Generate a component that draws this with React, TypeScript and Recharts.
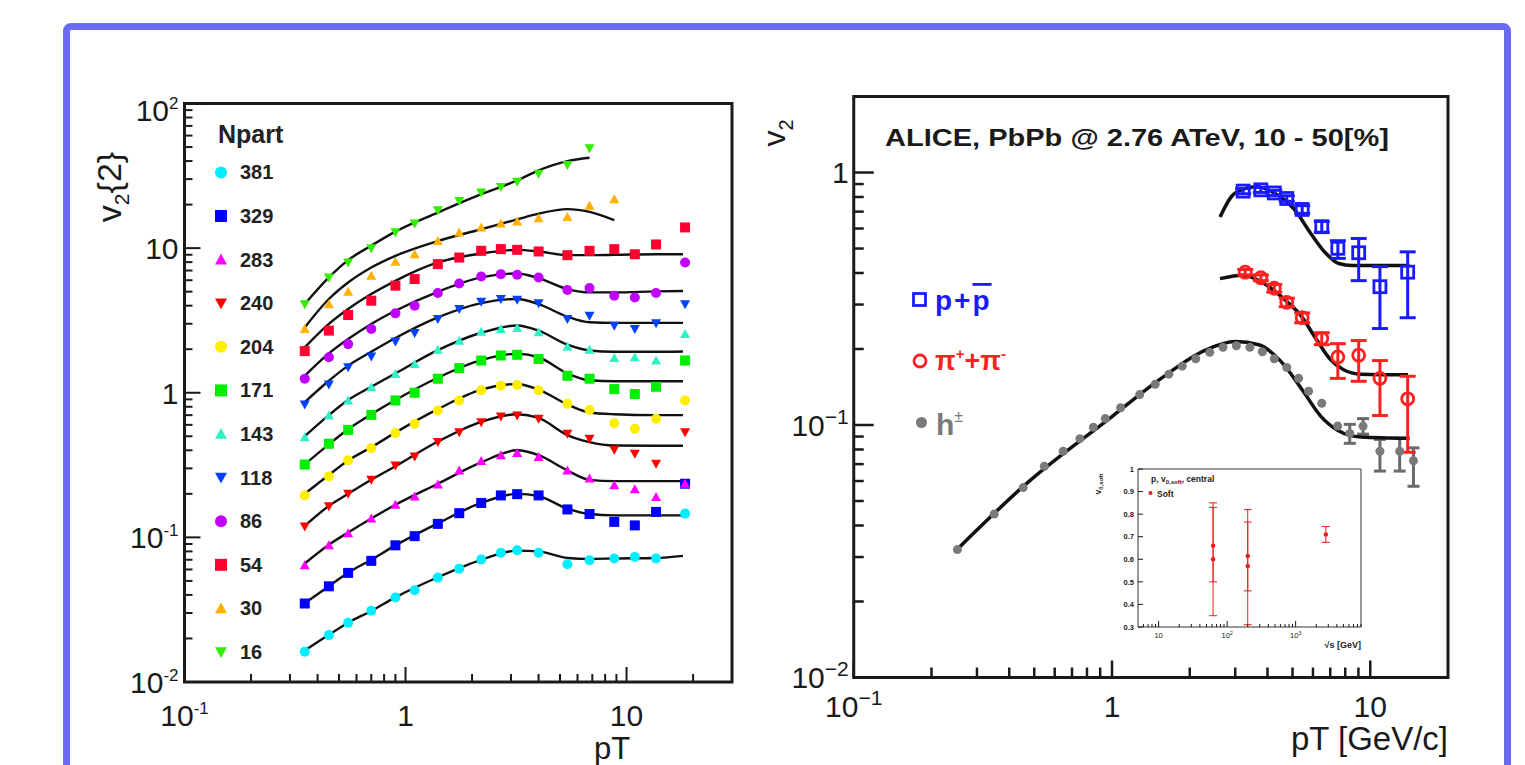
import React from "react";
import { ComposedChart, Scatter, Line, XAxis, YAxis, ErrorBar, ReferenceArea } from "recharts";

const FONT = "'Liberation Sans', Arial, Helvetica, sans-serif";
const FRAME = "#6a6af7";
const INK = "#1a1a1a";

// ---------------- left panel: v2{2} vs pT, one curve per Npart class ----------------
const npartLabels = ["381", "329", "283", "240", "204", "171", "143", "118", "86", "54", "30", "16"];
const npartColors = ["#00eeff", "#0000ff", "#ff00ff", "#ff0000", "#ffee00", "#00ee00", "#30f0c8", "#0040ff", "#c000ff", "#ff0030", "#ffb000", "#33ee00"];
const npartMarkers = ["circle", "square", "triUp", "triDown", "circle", "square", "triUp", "triDown", "circle", "square", "triUp", "triDown"];

const ptBins = [0.35, 0.45, 0.55, 0.7, 0.9, 1.1, 1.4, 1.75, 2.2, 2.7, 3.2, 4.0, 5.4, 6.8, 8.8, 10.9, 13.6, 18.4];
const fitPt = [0.35, 0.45, 0.55, 0.7, 0.9, 1.4, 2.2, 3.2, 4.0, 5.4, 6.8, 8.8, 13.6, 18];

const v2N381 = [0.0162, 0.0211, 0.0257, 0.0311, 0.0384, 0.0431, 0.0527, 0.0608, 0.0703, 0.0782, 0.0815, 0.0782, 0.0652, 0.0695, 0.0714, 0.0733, 0.0714, 0.146];
const v2N329 = [0.0349, 0.0459, 0.0568, 0.0688, 0.0881, 0.102, 0.124, 0.147, 0.173, 0.195, 0.199, 0.195, 0.156, 0.145, 0.128, 0.121, 0.15, 0.235];
const v2N283 = [0.0641, 0.0881, 0.107, 0.135, 0.168, 0.192, 0.232, 0.29, 0.337, 0.369, 0.383, 0.359, 0.29, 0.255, 0.229, 0.215, 0.19, 0.235];
const v2N240 = [0.119, 0.164, 0.2, 0.25, 0.314, 0.363, 0.456, 0.534, 0.626, 0.685, 0.697, 0.661, 0.52, 0.481, 0.404, 0.379, 0.323, 0.534];
const v2N204 = [0.195, 0.264, 0.341, 0.414, 0.526, 0.61, 0.754, 0.884, 1.04, 1.12, 1.13, 1.04, 0.838, 0.76, 0.616, 0.563, 0.661, 0.884];
const v2N171 = [0.319, 0.444, 0.554, 0.703, 0.884, 1.0, 1.25, 1.48, 1.67, 1.81, 1.83, 1.71, 1.31, 1.25, 1.06, 0.98, 1.1, 1.67];
const v2N143 = [0.493, 0.697, 0.884, 1.09, 1.35, 1.58, 1.98, 2.29, 2.64, 2.76, 2.8, 2.62, 2.08, 1.98, 1.74, 1.76, 1.67, 2.55];
const v2N118 = [0.829, 1.14, 1.5, 1.78, 2.26, 2.59, 3.23, 3.79, 4.26, 4.45, 4.4, 4.15, 3.23, 3.41, 2.91, 2.76, 3.02, 4.1];
const v2N86 = [1.25, 1.76, 2.17, 2.76, 3.54, 4.0, 4.89, 5.7, 6.37, 6.61, 6.55, 6.27, 5.13, 5.29, 4.69, 4.56, 4.89, 7.96];
const v2N54 = [1.94, 2.69, 3.45, 4.33, 5.5, 6.11, 7.75, 8.61, 9.58, 9.84, 9.73, 9.48, 8.94, 9.58, 9.84, 9.07, 10.6, 13.9];
const v2N30 = [2.76, 4.1, 4.99, 6.44, 8.04, 9.08, 11.2, 12.8, 13.9, 14.8, 15.3, 16.1, 16.4, 19.6, 21.8];
const v2N16 = [4.1, 6.27, 7.96, 10.0, 12.9, 14.8, 18.3, 21.2, 24.2, 26.5, 28.8, 32.7, 37.6, 49.0];

const fitN381 = [0.0165, 0.0212, 0.0257, 0.031, 0.0385, 0.053, 0.07, 0.081, 0.08, 0.072, 0.071, 0.0715, 0.072, 0.0745];
const fitN329 = [0.035, 0.046, 0.057, 0.07, 0.088, 0.125, 0.173, 0.2, 0.193, 0.158, 0.145, 0.142, 0.142, 0.142];
const fitN283 = [0.066, 0.089, 0.108, 0.135, 0.168, 0.235, 0.33, 0.4, 0.37, 0.29, 0.25, 0.245, 0.245, 0.245];
const fitN240 = [0.12, 0.165, 0.2, 0.25, 0.31, 0.46, 0.63, 0.71, 0.67, 0.51, 0.456, 0.432, 0.43, 0.43];
const fitN204 = [0.2, 0.27, 0.34, 0.42, 0.53, 0.77, 1.05, 1.15, 1.05, 0.83, 0.73, 0.71, 0.7, 0.7];
const fitN171 = [0.32, 0.44, 0.56, 0.71, 0.89, 1.27, 1.68, 1.86, 1.76, 1.36, 1.22, 1.2, 1.2, 1.2];
const fitN143 = [0.5, 0.7, 0.89, 1.1, 1.36, 1.97, 2.6, 2.92, 2.69, 2.15, 1.96, 1.92, 1.92, 1.93];
const fitN118 = [0.861, 1.21, 1.54, 1.92, 2.39, 3.32, 4.17, 4.45, 4.1, 3.36, 3.07, 3.04, 3.04, 3.04];
const fitN86 = [1.31, 1.87, 2.35, 2.99, 3.69, 4.99, 6.27, 6.68, 6.2, 5.21, 4.94, 4.94, 5.02, 5.05];
const fitN54 = [2.06, 2.99, 3.79, 4.81, 5.94, 7.96, 9.18, 9.73, 9.48, 8.94, 8.94, 8.98, 9.08, 9.08];
const fitN30 = [2.83, 4.45, 5.79, 7.35, 8.85, 11.2, 13.5, 15.8, 17.3, 18.6, 17.8, 15.6];
const fitN16 = [4.1, 6.27, 8.26, 10.4, 13.0, 17.6, 23.6, 29.4, 34.5, 40.0, 42.2];

const classPoints = [v2N381, v2N329, v2N283, v2N240, v2N204, v2N171, v2N143, v2N118, v2N86, v2N54, v2N30, v2N16];
const classFits = [fitN381, fitN329, fitN283, fitN240, fitN204, fitN171, fitN143, fitN118, fitN86, fitN54, fitN30, fitN16];

// ---------------- right panel: ALICE identified-particle v2 ----------------
const hPt = [0.252, 0.35, 0.453, 0.547, 0.647, 0.751, 0.847, 0.942, 1.08, 1.28, 1.47, 1.66, 1.87, 2.11, 2.39, 2.69, 3.03, 3.42, 3.82, 4.25, 4.75, 5.28, 5.77, 6.49, 7.48, 8.33, 9.38, 10.9, 13.0, 14.7];
const hV2 = [0.0321, 0.0444, 0.0565, 0.0686, 0.0787, 0.0883, 0.098, 0.106, 0.117, 0.132, 0.145, 0.159, 0.171, 0.183, 0.194, 0.203, 0.206, 0.203, 0.195, 0.183, 0.169, 0.153, 0.136, 0.122, 0.099, 0.0926, 0.099, 0.0787, 0.0787, 0.0722];
const hErr: ([number, number] | null)[] = [
  null, null, null, null, null, null, null, null, null, null, null, null, null, null, null,
  null, null, null, null, null, null, null, null, null, null,
  [0.008, 0.008], [0.007, 0.007], [0.013, 0.009], [0.013, 0.01], [0.015, 0.009],
];

const pPt = [3.22, 3.77, 4.25, 4.75, 5.45, 6.49, 7.49, 9.02, 10.9, 13.96];
const pV2 = [0.844, 0.854, 0.83, 0.789, 0.714, 0.61, 0.501, 0.481, 0.353, 0.403];
const pErrLo = [0.02, 0.02, 0.02, 0.02, 0.025, 0.03, 0.044, 0.108, 0.112, 0.137];
const pErrHi = [0.02, 0.02, 0.02, 0.02, 0.025, 0.03, 0.036, 0.067, 0.071, 0.082];

const piPt = [3.28, 3.77, 4.25, 4.75, 5.45, 6.49, 7.49, 9.02, 10.9, 13.96];
const piV2 = [0.403, 0.383, 0.348, 0.306, 0.266, 0.22, 0.186, 0.189, 0.153, 0.127];
const piErrLo = [0.01, 0.01, 0.012, 0.012, 0.012, 0.012, 0.033, 0.04, 0.044, 0.049];
const piErrHi = [0.01, 0.01, 0.012, 0.012, 0.012, 0.012, 0.024, 0.027, 0.027, 0.029];

const pFitPt = [2.62, 3.0, 3.63, 4.33, 5.08, 5.95, 6.7, 7.55, 8.5, 10.0, 14.2];
const pFitV2 = [0.666, 0.83, 0.878, 0.82, 0.714, 0.564, 0.481, 0.436, 0.428, 0.428, 0.428];
const piFitPt = [2.62, 3.22, 3.85, 4.6, 5.39, 6.19, 6.97, 7.85, 9.2, 14.0];
const piFitV2 = [0.38, 0.392, 0.365, 0.318, 0.271, 0.218, 0.183, 0.166, 0.159, 0.158];
const hFitPt = [0.25, 0.47, 1.0, 1.55, 2.3, 3.0, 3.7, 4.5, 5.5, 6.4, 7.5, 9.2, 14.2];
const hFitV2 = [0.032, 0.059, 0.108, 0.153, 0.198, 0.214, 0.208, 0.179, 0.136, 0.109, 0.0952, 0.0897, 0.0886];

// ---------------- inset: v0,soft vs sqrt(s) ----------------
const insetSqrtS = [62.4, 62.4, 200, 200, 2760];
const insetV0 = [0.66, 0.6, 0.615, 0.57, 0.71];
const insetErrLo = [0.16, 0.25, 0.155, 0.26, 0.035];
const insetErrHi = [0.17, 0.25, 0.15, 0.25, 0.035];

// ---------------- helpers ----------------
const decadeTicks = (lo: number, hi: number) => {
  const out: number[] = [];
  for (let e = lo; e <= hi; e++) for (let k = 1; k <= 9; k++) out.push(Number((k * Math.pow(10, e)).toPrecision(3)));
  return out;
};

const pow = (exp: string, sup: number, rise: number) => (
  <>
    <tspan>10</tspan>
    <tspan fontSize={sup} dy={-rise}>{exp}</tspan>
  </>
);

type AxisStyle = {
  dir: "x" | "y";
  majors: number[];
  majorLen: number;
  minorLen: number;
  font: number;
  gap: number;
  label: (v: number) => React.ReactNode | null;
  sw?: number;
  nudge?: (v: number) => number;
  weight?: string;
};

// axes get width/height 1 so they still render; ticks are drawn inward by hand
const makeTick = (st: AxisStyle) => (props: any) => {
  const { x, y, payload } = props;
  const v = Number(payload.value);
  const major = st.majors.some((m) => Math.abs(m - v) < m * 1e-6);
  const len = major ? st.majorLen : st.minorLen;
  const lbl = major ? st.label(v) : null;
  const sw = st.sw ?? 2;
  if (st.dir === "x") {
    return (
      <g>
        <line x1={x} y1={y} x2={x} y2={y - len} stroke={INK} strokeWidth={sw} />
        {lbl != null && (
          <text x={x} y={y + st.gap} textAnchor="middle" fontSize={st.font} fontFamily={FONT} fontWeight={st.weight} fill={INK}>
            {lbl}
          </text>
        )}
      </g>
    );
  }
  return (
    <g>
      <line x1={x} y1={y} x2={x + len} y2={y} stroke={INK} strokeWidth={sw} />
      {lbl != null && (
        <text x={x - st.gap} y={y + st.font * 0.36 + (st.nudge ? st.nudge(v) : 0)} textAnchor="end" fontSize={st.font} fontFamily={FONT} fontWeight={st.weight} fill={INK}>
          {lbl}
        </text>
      )}
    </g>
  );
};

const Marker = ({ kind, cx, cy, color, s }: { kind: string; cx: number; cy: number; color: string; s: number }) => {
  const h = s / 2;
  switch (kind) {
    case "square":
      return <rect x={cx - h} y={cy - h} width={s} height={s} fill={color} />;
    case "triUp":
      return <polygon points={`${cx},${cy - h} ${cx + h},${cy + h * 0.8} ${cx - h},${cy + h * 0.8}`} fill={color} />;
    case "triDown":
      return <polygon points={`${cx - h},${cy - h * 0.8} ${cx + h},${cy - h * 0.8} ${cx},${cy + h}`} fill={color} />;
    case "openSquare":
      return <rect x={cx - h} y={cy - h} width={s} height={s} fill="none" stroke={color} strokeWidth={2.8} />;
    case "openCircle":
      return <circle cx={cx} cy={cy} r={h} fill="none" stroke={color} strokeWidth={2.8} />;
    default:
      return <circle cx={cx} cy={cy} r={h} fill={color} />;
  }
};

// ---------------- left panel ----------------
const leftXTick = makeTick({
  dir: "x",
  majors: [0.1, 1, 10],
  majorLen: 15,
  minorLen: 8,
  font: 30,
  gap: 44,
  label: (v) => (v === 0.1 ? pow("-1", 17, 12) : v === 1 ? "1" : v === 10 ? "10" : null),
});
const leftYTick = makeTick({
  dir: "y",
  majors: [0.01, 0.1, 1, 10, 100],
  majorLen: 16,
  minorLen: 8,
  font: 30,
  gap: 6,
  nudge: (v) => (v === 100 ? 7 : 0),
  label: (v) =>
    v === 0.01 ? pow("-2", 17, 12) : v === 0.1 ? pow("-1", 17, 12) : v === 1 ? "1" : v === 10 ? "10" : v === 100 ? pow("2", 17, 12) : null,
});

const LeftPanel = () => (
  <ComposedChart width={760} height={765} margin={{ top: 103.5, left: 183.5, right: 28, bottom: 82 }}>
    <XAxis dataKey="x" type="number" scale="log" domain={[0.1, 30]} allowDataOverflow ticks={[...decadeTicks(-1, 0), 10, 20]} interval={0} height={1} tickSize={0} tickMargin={0} tickLine={false} axisLine={false} tick={leftXTick} />
    <YAxis dataKey="y" type="number" scale="log" domain={[0.01, 100]} allowDataOverflow ticks={[...decadeTicks(-2, 1), 100]} interval={0} width={1} tickSize={0} tickMargin={0} tickLine={false} axisLine={false} tick={leftYTick} />
    {classFits.map((fit, i) => (
      <Line
        key={`fit-${npartLabels[i]}`}
        data={fit.map((y, j) => ({ x: fitPt[j], y }))}
        dataKey="y"
        type="monotone"
        stroke="#111"
        strokeWidth={2.4}
        dot={false}
        activeDot={false}
        isAnimationActive={false}
      />
    ))}
    {classPoints.map((pts, i) => (
      <Scatter
        key={`pts-${npartLabels[i]}`}
        data={pts.map((y, j) => ({ x: ptBins[j], y }))}
        isAnimationActive={false}
        shape={(p: any) => <Marker kind={npartMarkers[i]} cx={p.cx} cy={p.cy} color={npartColors[i]} s={10} />}
      />
    ))}
    <ReferenceArea x1={0.1} x2={30} y1={0.01} y2={100} fill="none" stroke={INK} strokeWidth={3} ifOverflow="visible" />
  </ComposedChart>
);

// ---------------- right panel ----------------
const rightXTick = makeTick({
  dir: "x",
  majors: [0.1, 1, 10],
  majorLen: 17,
  minorLen: 10,
  font: 30,
  gap: 39,
  sw: 2.5,
  label: (v) => (v === 0.1 ? pow("\u22121", 21, 12) : v === 1 ? "1" : v === 10 ? "10" : null),
});
const rightYTick = makeTick({
  dir: "y",
  majors: [0.01, 0.1, 1],
  majorLen: 20,
  minorLen: 10,
  font: 30,
  gap: 5,
  sw: 2.5,
  label: (v) => (v === 0.01 ? pow("\u22122", 21, 12) : v === 0.1 ? pow("\u22121", 21, 12) : v === 1 ? "1" : null),
});

const hData = hPt.map((x, i) => ({ x, y: hV2[i], err: hErr[i] }));
const pData = pPt.map((x, i) => ({ x, y: pV2[i], err: [pErrLo[i], pErrHi[i]] }));
const piData = piPt.map((x, i) => ({ x, y: piV2[i], err: [piErrLo[i], piErrHi[i]] }));

const RightPanel = () => (
  <ComposedChart width={765} height={765} margin={{ top: 96.5, left: 92.75, right: 77, bottom: 86.5 }}>
    <XAxis dataKey="x" type="number" scale="log" domain={[0.1, 20]} allowDataOverflow ticks={[...decadeTicks(-1, 0), 10]} interval={0} height={1} tickSize={0} tickMargin={0} tickLine={false} axisLine={false} tick={rightXTick} />
    <YAxis dataKey="y" type="number" scale="log" domain={[0.01, 2]} allowDataOverflow ticks={[...decadeTicks(-2, -1), 1]} interval={0} width={1} tickSize={0} tickMargin={0} tickLine={false} axisLine={false} tick={rightYTick} />
    <Scatter data={hData} isAnimationActive={false} shape={(p: any) => <Marker kind="circle" cx={p.cx} cy={p.cy} color="#7a7a7a" s={9} />}>
      <ErrorBar dataKey="err" direction="y" width={6} stroke="#6a6a6a" strokeWidth={3} />
    </Scatter>
    <Line data={hFitPt.map((x, i) => ({ x, y: hFitV2[i] }))} dataKey="y" type="monotone" stroke="#111" strokeWidth={3.5} dot={false} activeDot={false} isAnimationActive={false} />
    <Line data={pFitPt.map((x, i) => ({ x, y: pFitV2[i] }))} dataKey="y" type="monotone" stroke="#111" strokeWidth={3.5} dot={false} activeDot={false} isAnimationActive={false} />
    <Line data={piFitPt.map((x, i) => ({ x, y: piFitV2[i] }))} dataKey="y" type="monotone" stroke="#111" strokeWidth={3.5} dot={false} activeDot={false} isAnimationActive={false} />
    <Scatter data={pData} isAnimationActive={false} shape={(p: any) => <Marker kind="openSquare" cx={p.cx} cy={p.cy} color="#1a1aff" s={12} />}>
      <ErrorBar dataKey="err" direction="y" width={8} stroke="#1a1aff" strokeWidth={3} />
    </Scatter>
    <Scatter data={piData} isAnimationActive={false} shape={(p: any) => <Marker kind="openCircle" cx={p.cx} cy={p.cy} color="#ff2020" s={12} />}>
      <ErrorBar dataKey="err" direction="y" width={8} stroke="#ff2020" strokeWidth={3} />
    </Scatter>
    <ReferenceArea x1={0.1} x2={20} y1={0.01} y2={2} fill="none" stroke={INK} strokeWidth={3} ifOverflow="visible" />
  </ComposedChart>
);

// ---------------- inset ----------------
const insetXTick = makeTick({
  dir: "x",
  majors: [10, 100, 1000],
  majorLen: 6,
  minorLen: 3,
  font: 7.5,
  gap: 11,
  sw: 1,
  label: (v) => (v === 10 ? "10" : v === 100 ? pow("2", 5, 3) : v === 1000 ? pow("3", 5, 3) : null),
});
const insetYTick = makeTick({
  dir: "y",
  majors: [0.3, 0.4, 0.5, 0.6, 0.7, 0.8, 0.9, 1],
  majorLen: 5,
  minorLen: 2,
  font: 7.5,
  gap: 4,
  sw: 1,
  weight: "bold",
  label: (v) => (v === 1 ? "1" : v.toFixed(1)),
});
const insetData = insetSqrtS.map((x, i) => ({ x, y: insetV0[i], err: [insetErrLo[i], insetErrHi[i]] }));

const Inset = () => (
  <ComposedChart width={300} height={200} margin={{ top: 14, left: 57, right: 19, bottom: 27 }}>
    <XAxis dataKey="x" type="number" scale="log" domain={[5, 9000]} allowDataOverflow ticks={[6, 7, 8, 9, ...decadeTicks(1, 3)]} interval={0} height={1} tickSize={0} tickMargin={0} tickLine={false} axisLine={false} tick={insetXTick} />
    <YAxis dataKey="y" type="number" domain={[0.3, 1]} allowDataOverflow ticks={[0.3, 0.4, 0.5, 0.6, 0.7, 0.8, 0.9, 1]} interval={0} width={1} tickSize={0} tickMargin={0} tickLine={false} axisLine={false} tick={insetYTick} />
    <Scatter data={insetData} isAnimationActive={false} shape={(p: any) => <Marker kind="circle" cx={p.cx} cy={p.cy} color="#ee1c1c" s={4.5} />}>
      <ErrorBar dataKey="err" direction="y" width={4} stroke="#ee1c1c" strokeWidth={1} />
    </Scatter>
    <ReferenceArea x1={5} x2={9000} y1={0.3} y2={1} fill="none" stroke="#333" strokeWidth={1} ifOverflow="visible" />
  </ComposedChart>
);

// ---------------- text annotations ----------------
const Annotations = () => (
  <svg width={1525} height={765} style={{ position: "absolute", left: 0, top: 0, pointerEvents: "none" }} fontFamily={FONT}>
    {/* left panel */}
    <text x={218} y={143} fontSize={25} fontWeight="bold" fill="#222">Npart</text>
    {npartLabels.map((lab, i) => {
      const cy = 172.4 + i * 43.6;
      return (
        <g key={`leg-${lab}`}>
          <Marker kind={npartMarkers[i]} cx={221} cy={cy} color={npartColors[i]} s={12} />
          <text x={240} y={cy + 7} fontSize={20} fontWeight="bold" fill="#222">{lab}</text>
        </g>
      );
    })}
    <text transform="translate(121,187) rotate(-90)" textAnchor="middle" fontSize={34} fill={INK}>
      v<tspan fontSize={21} dy={8}>2</tspan><tspan dy={-8}>{"{2}"}</tspan>
    </text>
    <text x={612} y={759} textAnchor="middle" fontSize={31} fill={INK}>pT</text>

    {/* right panel */}
    <text x={885} y={146} fontSize={24} fontWeight="bold" fill={INK} textLength={504} lengthAdjust="spacingAndGlyphs">
      ALICE, PbPb @ 2.76 ATeV, 10 - 50[%]
    </text>
    <text transform="translate(785,133) rotate(-90)" textAnchor="middle" fontSize={32} fill={INK}>
      v<tspan fontSize={20} dy={8}>2</tspan>
    </text>
    <text x={1448} y={750} textAnchor="end" fontSize={33} fill={INK}>pT [GeV/c]</text>

    <Marker kind="openSquare" cx={919.5} cy={299.5} color="#1a1aff" s={12} />
    <text x={935} y={310} fontSize={28} fontWeight="bold" fill="#1a1aff" letterSpacing={2}>
      p+<tspan style={{ textDecoration: "overline" }}>p</tspan>
    </text>
    <Marker kind="openCircle" cx={920} cy={361} color="#ff2020" s={12} />
    <text x={935} y={370} fontSize={27} fill="#ff2020" fontWeight="bold">
      π<tspan fontSize={15} dy={-11}>+</tspan><tspan dy={11}>+π</tspan><tspan fontSize={15} dy={-11}>-</tspan>
    </text>
    <Marker kind="circle" cx={921.5} cy={422.5} color="#7a7a7a" s={11} />
    <text x={936} y={435} fontSize={30} fontWeight="bold" fill="#7a7a7a">
      h<tspan fontSize={16} dy={-13} fontWeight="normal">±</tspan>
    </text>

    {/* inset */}
    <text x={1151} y={482} fontSize={8.5} fontWeight="bold" fill="#222">
      p, v<tspan fontSize={6} dy={2}>0,soft</tspan><tspan dy={-2}>, central</tspan>
    </text>
    <circle cx={1150.5} cy={493} r={2} fill="#ee1c1c" />
    <text x={1157} y={497} fontSize={8.5} fontWeight="bold" fill="#222">Soft</text>
    <text transform="translate(1101,484) rotate(-90)" textAnchor="middle" fontSize={8.5} fontWeight="bold" fill="#222">
      v<tspan fontSize={6} dy={2}>0,soft</tspan>
    </text>
    <text x={1361} y={648} textAnchor="end" fontSize={9} fontWeight="bold" fill="#222">√s [GeV]</text>
  </svg>
);

export default function App() {
  return (
    <div style={{ position: "absolute", left: 0, top: 0, width: 1525, height: 765, background: "#fff", overflow: "hidden", fontFamily: FONT }}>
      <div style={{ position: "absolute", left: 63, top: 23, width: 1448, height: 800, border: `7px solid ${FRAME}`, borderRadius: 8, boxSizing: "border-box" }} />
      <div style={{ position: "absolute", left: 0, top: 0 }}>
        <LeftPanel />
      </div>
      <div style={{ position: "absolute", left: 760, top: 0 }}>
        <RightPanel />
      </div>
      <div style={{ position: "absolute", left: 1080, top: 455 }}>
        <Inset />
      </div>
      <Annotations />
    </div>
  );
}
